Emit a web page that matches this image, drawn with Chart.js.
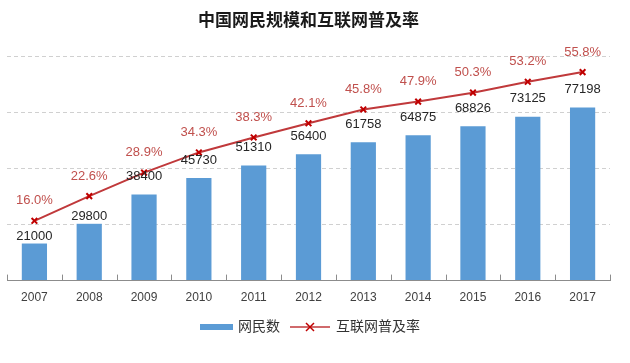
<!DOCTYPE html>
<html>
<head>
<meta charset="utf-8">
<script src="https://cdn.jsdelivr.net/npm/chart.js@4/dist/chart.umd.min.js"></script>
<style>
    html, body { margin: 0; padding: 0; background: #fff; }
    #wrap { width: 630px; height: 363px; position: relative; }
</style>
</head>
<body>
<div id="wrap"><canvas id="netChart"></canvas></div>
<script>
// ------------------------------------------------------------------
// Data (CNNIC, 万人 / %)
// ------------------------------------------------------------------
const years = ['2007', '2008', '2009', '2010', '2011', '2012', '2013', '2014', '2015', '2016', '2017'];
const netizens = [21000, 29800, 38400, 45730, 51310, 56400, 61758, 64875, 68826, 73125, 77198];
const rates = [16.0, 22.6, 28.9, 34.3, 38.3, 42.1, 45.8, 47.9, 50.3, 53.2, 55.8];

const BAR_COLOR = '#5B9BD5';
const LINE_COLOR = '#C0393B';
const MARK_COLOR = '#C00000';
const RATE_TEXT = '#C0504D';
const FONT = '"Liberation Sans", "Noto Sans CJK SC", sans-serif';

// ------------------------------------------------------------------
// Plugins
// ------------------------------------------------------------------

// value labels above bars / points
const valueLabels = {
    id: 'valueLabels',
    afterDatasetsDraw(chart) {
        const ctx = chart.ctx;
        ctx.save();
        ctx.textAlign = 'center';
        ctx.textBaseline = 'middle';
        ctx.font = '13px ' + FONT;

        // bar values (first two sit on the bar top, over a white box)
        chart.getDatasetMeta(0).data.forEach((bar, i) => {
            const txt = String(netizens[i]);
            const onBar = i < 2;
            const y = onBar ? bar.y + 3 : bar.y - 18;
            if (onBar) {
                const w = ctx.measureText(txt).width;
                ctx.fillStyle = '#fff';
                ctx.fillRect(bar.x - w / 2 - 1, y - 7, w + 2, 14);
            }
            ctx.fillStyle = '#262626';
            ctx.fillText(txt, bar.x, y);
        });

        ctx.fillStyle = RATE_TEXT;
        chart.getDatasetMeta(1).data.forEach((pt, i) => {
            ctx.fillText(rates[i].toFixed(1) + '%', pt.x, pt.y - 20);
        });
        ctx.restore();
    },
};

// short upward tick marks between categories
const axisTicks = {
    id: 'axisTicks',
    beforeDatasetsDraw(chart) {
        const xs = chart.scales.x;
        const bottom = chart.chartArea.bottom;
        const ctx = chart.ctx;
        ctx.save();
        ctx.strokeStyle = '#8c8c8c';
        ctx.lineWidth = 1;
        ctx.beginPath();
        for (let i = 0; i <= years.length; i++) {
            const x = Math.round(xs.getPixelForValue(i - 0.5)) + 0.5;
            ctx.moveTo(x, bottom - 6);
            ctx.lineTo(x, bottom);
        }
        ctx.stroke();
        ctx.restore();
    },
};

// legend: blue bar swatch + red line with an X
const bottomLegend = {
    id: 'bottomLegend',
    afterDraw(chart) {
        const ctx = chart.ctx;
        const ds = chart.data.datasets;
        const y = 327;
        ctx.save();
        ctx.font = '14px ' + FONT;
        ctx.textBaseline = 'middle';
        const tw0 = ctx.measureText(ds[0].label).width;
        const tw1 = ctx.measureText(ds[1].label).width;
        const total = 33 + 5 + tw0 + 10 + 40 + 6 + tw1;
        let x = Math.round(chart.width / 2 - total / 2) - 5;

        ctx.fillStyle = BAR_COLOR;
        ctx.fillRect(x, y - 3, 33, 6);
        x += 33 + 5;
        ctx.fillStyle = '#333';
        ctx.fillText(ds[0].label, x, y);
        x += tw0 + 10;

        ctx.strokeStyle = LINE_COLOR;
        ctx.lineWidth = 1.5;
        ctx.beginPath();
        ctx.moveTo(x, y); ctx.lineTo(x + 40, y);
        ctx.stroke();
        ctx.strokeStyle = MARK_COLOR;
        ctx.beginPath();
        ctx.moveTo(x + 16, y - 4); ctx.lineTo(x + 24, y + 4);
        ctx.moveTo(x + 24, y - 4); ctx.lineTo(x + 16, y + 4);
        ctx.stroke();
        x += 40 + 6;
        ctx.fillStyle = '#333';
        ctx.fillText(ds[1].label, x, y);
        ctx.restore();
    },
};

// ------------------------------------------------------------------
// Chart
// ------------------------------------------------------------------
new Chart(document.getElementById('netChart'), {
    data: {
        labels: years,
        datasets: [
            {
                type: 'bar',
                label: '网民数',
                data: netizens,
                yAxisID: 'y',
                backgroundColor: BAR_COLOR,
                barPercentage: 0.46,
                categoryPercentage: 1,
            },
            {
                type: 'line',
                label: '互联网普及率',
                data: rates,
                yAxisID: 'y1',
                borderColor: LINE_COLOR,
                borderWidth: 2,
                tension: 0,
                pointStyle: 'crossRot',
                pointRadius: 4,
                pointBorderWidth: 2,
                pointBorderColor: MARK_COLOR,
                fill: false,
            },
        ],
    },
    plugins: [axisTicks, valueLabels, bottomLegend],
    options: {
        responsive: true,
        maintainAspectRatio: false,
        animation: false,
        layout: { padding: { left: 7, right: 20, top: 0, bottom: 48 } },
        scales: {
            x: {
                grid: { display: false, drawTicks: false },
                border: { display: true, color: '#8c8c8c', width: 1 },
                ticks: { color: '#404040', font: { family: FONT, size: 12 }, padding: 10 },
            },
            y: {
                min: 0,
                max: 100000,
                ticks: { display: false, stepSize: 25000 },
                border: { display: false, dash: [4, 3] },
                grid: {
                    drawTicks: false,
                    color: ctx => ctx.tick && ctx.tick.value === 0 ? 'rgba(0,0,0,0)' : '#d0d0d0',
                },
            },
            y1: {
                display: false,
                position: 'right',
                min: 0,
                max: 60,
            },
        },
        plugins: {
            title: {
                display: true,
                text: '中国网民规模和互联网普及率',
                color: '#1a1a1a',
                font: { family: FONT, size: 17, weight: 'bold' },
                padding: { top: 11, bottom: 25 },
            },
            legend: { display: false },
            tooltip: { enabled: false },
        },
    },
});
</script>
</body>
</html>
